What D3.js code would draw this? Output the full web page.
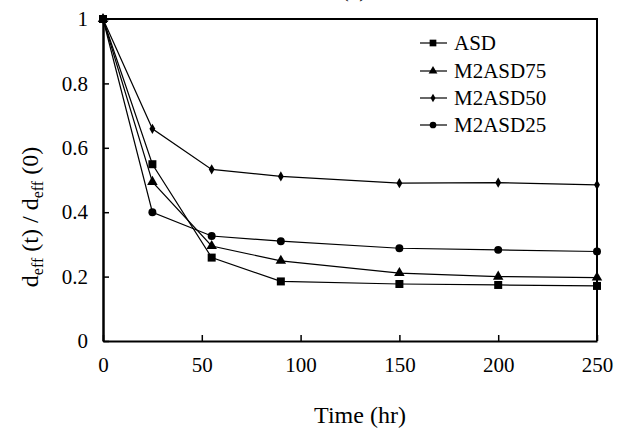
<!DOCTYPE html>
<html>
<head>
<meta charset="utf-8">
<script src="https://cdn.jsdelivr.net/npm/d3@7"></script>
<style>
  html, body { margin: 0; padding: 0; background: #fff; }
  svg { display: block; }
</style>
</head>
<body>
<svg id="chart" width="617" height="428"></svg>
<script>
const times = [0, 25, 55, 90, 150, 200, 250];
const seriesNames = ["ASD", "M2ASD75", "M2ASD50", "M2ASD25"];
const seriesSymbols = ["square", "triangle", "diamond", "circle"];
const asd     = [1, 0.549, 0.259, 0.185, 0.177, 0.174, 0.171];
const m2asd75 = [1, 0.494, 0.295, 0.249, 0.211, 0.200, 0.197];
const m2asd50 = [1, 0.659, 0.533, 0.511, 0.490, 0.492, 0.485];
const m2asd25 = [1, 0.400, 0.326, 0.310, 0.288, 0.283, 0.278];
const xTicks = [0, 50, 100, 150, 200, 250];
const yTicks = [0, 0.2, 0.4, 0.6, 0.8, 1];

const seriesValues = [asd, m2asd75, m2asd50, m2asd25];
const FONT = '"Liberation Serif"';

const svg = d3.select("#chart");
const plotLeft = 103, plotRight = 597, plotTop = 19, plotBottom = 341;

const x = d3.scaleLinear().domain([0, 250]).range([plotLeft, plotRight]);
const y = d3.scaleLinear().domain([0, 1]).range([plotBottom, plotTop]);

const symbolType = {
  square: d3.symbolSquare,
  triangle: d3.symbolTriangle,
  diamond: d3.symbolDiamond,
  circle: d3.symbolCircle
};
const symbolSize = { square: 64, triangle: 48, diamond: 30, circle: 50 };

// frame (top & right)
svg.append("path")
  .attr("d", `M${plotLeft},${plotTop}H${plotRight}V${plotBottom}`)
  .attr("fill", "none").attr("stroke", "#000").attr("stroke-width", 2);

// x axis
const xAxis = svg.append("g")
  .attr("transform", `translate(0,${plotBottom})`)
  .call(d3.axisBottom(x).tickValues(xTicks).tickSizeInner(-6).tickSizeOuter(0).tickPadding(16).tickFormat(d3.format("d")));
xAxis.select(".domain").attr("stroke-width", 2);
xAxis.selectAll(".tick line").attr("stroke-width", 1.5);
xAxis.selectAll("text").attr("font-size", 21).style("font-family", FONT).attr("fill", "#000");

// y axis
const yAxis = svg.append("g")
  .attr("transform", `translate(${plotLeft},0)`)
  .call(d3.axisLeft(y).tickValues(yTicks).tickSizeInner(-6).tickSizeOuter(0).tickPadding(15)
    .tickFormat(d => d === 0 ? "0" : d === 1 ? "1" : d3.format(".1f")(d)));
yAxis.select(".domain").attr("stroke-width", 2.5);
yAxis.selectAll(".tick line").attr("stroke-width", 1.5);
yAxis.selectAll("text").attr("font-size", 21).style("font-family", FONT).attr("fill", "#000");

// lines & markers
const line = d3.line().x((d, i) => x(times[i])).y(d => y(d));
seriesValues.forEach((vals, si) => {
  svg.append("path")
    .datum(vals)
    .attr("d", line)
    .attr("fill", "none").attr("stroke", "#000").attr("stroke-width", 1.2);
  const sym = seriesSymbols[si];
  svg.append("g").selectAll("path")
    .data(vals)
    .join("path")
    .attr("transform", (d, i) => `translate(${x(times[i])},${y(d)})`)
    .attr("d", d3.symbol().type(symbolType[sym]).size(symbolSize[sym]))
    .attr("fill", "#000");
});

// legend
const legendY = [43, 71, 98, 125];
const lg = svg.append("g");
seriesNames.forEach((name, i) => {
  const sym = seriesSymbols[i];
  lg.append("line")
    .attr("x1", 420).attr("x2", 447)
    .attr("y1", legendY[i]).attr("y2", legendY[i])
    .attr("stroke", "#000").attr("stroke-width", 1.2);
  lg.append("path")
    .attr("transform", `translate(433,${legendY[i]})`)
    .attr("d", d3.symbol().type(symbolType[sym]).size(symbolSize[sym] * 0.7))
    .attr("fill", "#000");
  lg.append("text")
    .attr("x", 454).attr("y", legendY[i] + 7)
    .attr("font-size", 21).style("font-family", FONT).text(name);
});

// axis titles
svg.append("text")
  .attr("x", 360).attr("y", 423)
  .attr("text-anchor", "middle").attr("font-size", 24).style("font-family", FONT)
  .text("Time (hr)");

const yt = svg.append("text")
  .attr("transform", "translate(38,217) rotate(-90)")
  .attr("text-anchor", "middle").attr("font-size", 24).style("font-family", FONT);
yt.append("tspan").text("d");
yt.append("tspan").attr("font-size", 16).attr("dy", 5).text("eff");
yt.append("tspan").attr("dy", -5).text(" (t) / d");
yt.append("tspan").attr("font-size", 16).attr("dy", 5).text("eff");
yt.append("tspan").attr("dy", -5).text(" (0)");

// partially visible panel label at top
svg.append("text")
  .attr("x", 354).attr("y", -3)
  .attr("text-anchor", "middle").attr("font-size", 21).style("font-family", FONT)
  .text("(b)");
</script>
</body>
</html>
